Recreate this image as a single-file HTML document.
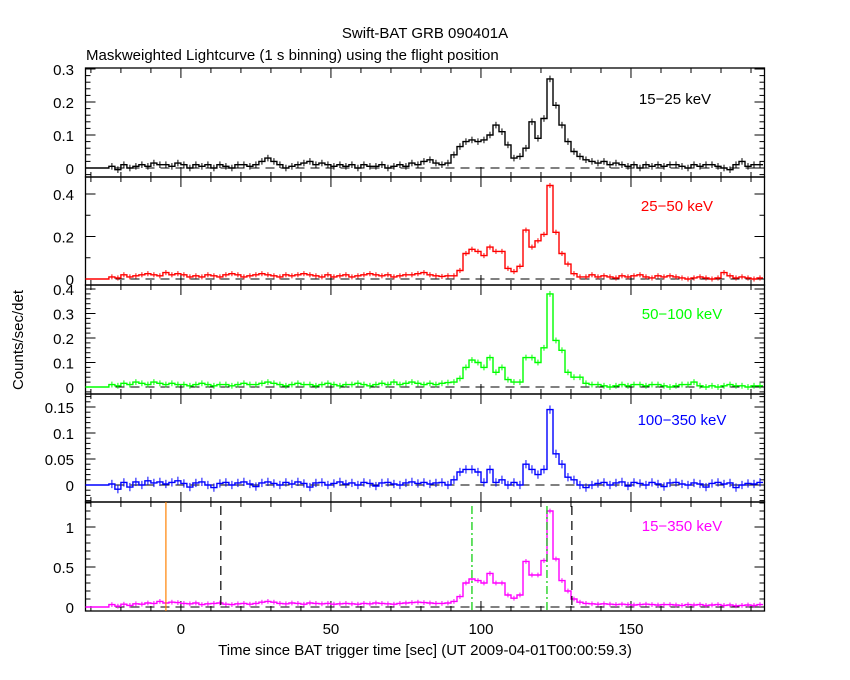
<!DOCTYPE html>
<html><head><meta charset="utf-8"><style>
html,body{margin:0;padding:0;background:#fff;}
svg{display:block;font-family:"Liberation Sans",sans-serif;}
</style></head><body>
<svg id="chart" width="850" height="680" viewBox="0 0 850 680" xmlns="http://www.w3.org/2000/svg">
<rect width="850" height="680" fill="#fff"/>
<text x="425" y="38" font-size="15" text-anchor="middle">Swift-BAT GRB 090401A</text>
<text x="86" y="60" font-size="15">Maskweighted Lightcurve (1 s binning) using the flight position</text>
<text x="0" y="0" font-size="15" text-anchor="middle" transform="translate(23,340) rotate(-90)">Counts/sec/det</text>
<text x="425" y="655" font-size="15" text-anchor="middle">Time since BAT trigger time [sec] (UT 2009-04-01T00:00:59.3)</text>
<g id="plots"></g>
</svg>
<script>
// bins: start time -24 s, width 2 s
const binStart = -24;
const binWidth = 2;
const xTicks = [0, 50, 100, 150];
const band1 = [0.005,-0.005,0.01,0.0,0.005,0.01,0.005,0.015,0.01,0.01,0.005,0.015,
0.01,0.0,0.01,0.005,0.01,0.0,0.01,0.005,0.0,0.01,0.01,0.005,0.01,0.02,0.03,0.02,
0.01,0.0,0.005,0.01,0.015,0.02,0.01,0.015,0.01,0.005,0.01,0.005,0.01,0.0,0.01,0.005,0.005,0.01,0.0,0.005,0.01,0.005,0.015,0.01,0.02,0.025,0.015,
0.01,0.015,0.04,0.065,0.08,0.085,0.08,0.085,0.1,0.13,0.11,0.07,0.03,0.035,0.06,0.14,0.09,0.15,0.27,0.19,0.13,0.08,0.05,0.035,0.025,0.02,0.015,
0.02,0.01,0.015,0.01,0.005,0.01,0.0,0.01,0.005,0.01,0.005,0.01,0.01,0.005,0.0,0.01,0.005,0.01,0.01,0.005,0.0,-0.005,0.01,0.02,0.005,0.01,0.01];
const band2 = [0.01,0.005,0.02,0.01,0.015,0.02,0.025,0.02,0.015,0.03,0.02,0.025,
0.02,0.01,0.015,0.01,0.02,0.015,0.01,0.02,0.025,0.02,0.01,0.015,0.02,0.025,0.02,0.015,
0.01,0.02,0.015,0.02,0.025,0.02,0.015,0.01,0.02,0.01,0.015,0.02,0.01,0.015,0.02,0.025,0.02,0.015,0.02,0.01,0.015,0.02,0.02,0.025,0.03,0.02,0.015,
0.012,0.015,0.015,0.04,0.12,0.14,0.13,0.11,0.15,0.13,0.13,0.05,0.035,0.06,0.23,0.15,0.18,0.21,0.44,0.22,0.12,0.07,0.025,0.01,0.01,0.02,0.01,
0.015,0.01,0.005,0.015,0.01,0.015,0.02,0.01,0.005,0.015,0.01,0.015,0.01,0.005,0.0,0.005,0.01,0.005,0.0,0.005,0.03,0.015,0.005,0.01,0.005,0.0,0.005];
const band3 = [0.01,0.005,0.015,0.01,0.02,0.015,0.01,0.02,0.015,0.01,0.015,0.01,
0.01,0.005,0.01,0.015,0.01,0.005,0.01,0.01,0.005,0.01,0.015,0.01,0.01,0.015,0.02,0.015,
0.01,0.005,0.01,0.015,0.01,0.01,0.005,0.01,0.015,0.01,0.005,0.01,0.01,0.015,0.01,0.005,0.01,0.015,0.01,0.02,0.01,0.015,0.02,0.015,0.01,0.015,0.01,
0.015,0.018,0.02,0.035,0.08,0.11,0.1,0.08,0.12,0.06,0.08,0.03,0.02,0.02,0.12,0.12,0.1,0.16,0.38,0.19,0.15,0.06,0.04,0.04,0.015,0.01,0.01,
0.005,0.0,0.005,0.01,0.005,0.01,0.01,0.005,0.01,0.01,0.005,0.0,0.005,0.01,0.01,0.02,0.005,0.0,0.005,0.0,0.005,0.01,0.005,0.005,0.0,0.005,0.005];
const band4 = [0.002,-0.008,0.005,-0.004,0.006,0.0,0.008,0.004,0.006,0.002,0.005,0.008,
0.003,-0.004,0.004,0.006,0.0,-0.005,0.003,0.005,0.0,0.004,0.006,0.002,-0.003,0.004,0.006,0.003,
0.0,0.005,0.002,0.006,0.003,-0.004,0.004,0.005,0.0,0.003,0.006,0.002,0.004,0.0,0.005,0.003,-0.002,0.004,0.005,0.002,0.0,0.004,0.006,0.003,0.005,0.002,0.004,
0.005,0.0,0.01,0.025,0.03,0.03,0.025,0.005,0.03,0.005,0.01,0.0,0.005,0.0,0.04,0.03,0.02,0.03,0.145,0.06,0.04,0.015,0.01,0.0,-0.005,0.0,0.003,
0.005,0.0,0.004,0.006,-0.002,0.005,0.003,0.0,0.005,0.002,-0.003,0.004,0.005,0.002,0.0,0.004,0.002,-0.004,0.003,0.005,0.002,0.004,-0.005,0.0,0.003,0.002,0.005];
const band5 = [0.03,0.01,0.035,0.02,0.04,0.035,0.05,0.045,0.07,0.05,0.06,0.055,
0.045,0.04,0.05,0.03,0.04,0.045,0.05,0.035,0.03,0.04,0.045,0.035,0.045,0.06,0.07,0.06,
0.045,0.04,0.05,0.045,0.035,0.05,0.045,0.04,0.045,0.035,0.04,0.045,0.04,0.035,0.045,0.04,0.05,0.045,0.04,0.035,0.045,0.05,0.055,0.06,0.055,0.05,0.045,
0.045,0.05,0.07,0.13,0.3,0.35,0.33,0.3,0.42,0.3,0.3,0.15,0.11,0.15,0.57,0.4,0.4,0.58,1.2,0.6,0.33,0.2,0.1,0.06,0.045,0.04,0.035,
0.04,0.035,0.03,0.035,0.03,0.025,0.03,0.035,0.03,0.025,0.03,0.03,0.025,0.02,0.03,0.025,0.03,0.02,0.025,0.03,0.02,0.025,0.015,0.02,0.025,0.02,0.03];
const panelLabels = ["15\u221225 keV","25\u221250 keV","50\u2212100 keV","100\u2212350 keV","15\u2212350 keV"];
const yTicks1 = [0,0.1,0.2,0.3];
const yTicks2 = [0,0.2,0.4];
const yTicks3 = [0,0.1,0.2,0.3,0.4];
const yTicks4 = [0,0.05,0.1,0.15];
const yTicks5 = [0,0.5,1];
const markerTimes = [-5, 13.3, 97, 122, 130.3];

const NS = "http://www.w3.org/2000/svg";
const X0 = 85.5, X1 = 764.5, T0 = -31.8, T1 = 194.5;
const xs = t => X0 + (t - T0) / (T1 - T0) * (X1 - X0);
const panels = [
 {top:68, bot:177, y0:168, unit:330, data:band1, ticks:yTicks1, minor:0.02, color:"#000", lx:675, ly:104, fmt:v=>v===0?"0":v.toFixed(1), err:0.01},
 {top:177, bot:285, y0:279, unit:212.5, data:band2, ticks:yTicks2, minor:0.1, color:"#f00", lx:677, ly:211, fmt:v=>v===0?"0":v.toFixed(1), err:0.012},
 {top:285, bot:394, y0:387, unit:245, data:band3, ticks:yTicks3, minor:0.02, color:"#0f0", lx:682, ly:319, fmt:v=>v===0?"0":v.toFixed(1), err:0.012},
 {top:394, bot:502, y0:485, unit:520, data:band4, ticks:yTicks4, minor:0.01, color:"#00f", lx:682, ly:425, fmt:v=>v===0?"0":String(v), err:0.008},
 {top:502, bot:611, y0:607, unit:80, data:band5, ticks:yTicks5, minor:0.1, color:"#f0f", lx:682, ly:531, fmt:v=>String(v), err:0.03}
];
const root = document.getElementById("plots");
function mk(tag, attrs, parent){
  const e = document.createElementNS(NS, tag);
  for (const k in attrs) e.setAttribute(k, attrs[k]);
  (parent||root).appendChild(e);
  return e;
}
panels.forEach((p, pi) => {
  const g = mk("g", {});
  
  
  const ys = v => p.y0 - v * p.unit;
  // frame
  const fr = mk("rect", {x:X0, y:p.top, width:X1-X0, height:p.bot-p.top, fill:"none", stroke:"#000", "stroke-width":1.3}, g);
  
  
  // x ticks
  for (let t = -30; t <= 190; t += 10) {
    const major = t % 50 === 0;
    const L = major ? 10 : 5;
    mk("line", {x1:xs(t), x2:xs(t), y1:p.top, y2:p.top+L, stroke:"#000"}, g);
    mk("line", {x1:xs(t), x2:xs(t), y1:p.bot, y2:p.bot-L, stroke:"#000"}, g);
  }
  // y ticks
  const lo = (p.y0 - p.bot) / p.unit, hi = (p.y0 - p.top) / p.unit;
  for (let k = Math.ceil(lo / p.minor); k * p.minor <= hi; k++) {
    const v = k * p.minor, y = ys(v);
    const isMajor = p.ticks.some(tv => Math.abs(tv - v) < 1e-9);
    const L = isMajor ? 10 : 5;
    mk("line", {x1:X0, x2:X0+L, y1:y, y2:y, stroke:"#000"}, g);
    mk("line", {x1:X1, x2:X1-L, y1:y, y2:y, stroke:"#000"}, g);
  }
  p.ticks.forEach(v => {
    const tl = mk("text", {x:74, y:ys(v)+6, "font-size":15, "text-anchor":"end"}, g);
    tl.textContent = p.fmt(v);
    
    
  });
  // zero dashed
  const zl = mk("line", {x1:X0, x2:X1, y1:ys(0), y2:ys(0), stroke:"#000", "stroke-dasharray":"9,6"}, g);
  
  
  // series step line
  let d = "M" + X0 + "," + ys(0) + " L" + xs(binStart) + "," + ys(0);
  p.data.forEach((v, i) => {
    const ta = binStart + i*binWidth, tb = ta + binWidth;
    d += " L" + xs(ta).toFixed(1) + "," + ys(v).toFixed(1) + " L" + xs(tb).toFixed(1) + "," + ys(v).toFixed(1);
  });
  const s = mk("path", {d:d, fill:"none", stroke:p.color, "stroke-width":1.4}, g);
  
  
  // error bars
  p.data.forEach((v, i) => {
    const tc = binStart + i*binWidth + binWidth/2;
    const eb = mk("line", {x1:xs(tc), x2:xs(tc), y1:ys(v+p.err), y2:ys(v-p.err), stroke:p.color}, g);
    
    
  });
  const lab = mk("text", {x:p.lx, y:p.ly, "font-size":15, fill:p.color, "text-anchor":"middle"}, g);
  lab.textContent = panelLabels[pi];
  
  
});
// marker lines in bottom panel
const P5 = panels[4];
const mStyles = [
 {c:"#ff8000", dash:"", top:P5.top},
 {c:"#000", dash:"9,6", top:P5.top+4},
 {c:"#0c0", dash:"8,3,2,3", top:P5.top+4},
 {c:"#0c0", dash:"8,3,2,3", top:P5.top+4},
 {c:"#000", dash:"9,6", top:P5.top+4}
];
markerTimes.forEach((t, i) => {
  const m = mk("line", {x1:xs(t), x2:xs(t), y1:mStyles[i].top, y2:P5.bot, stroke:mStyles[i].c, "stroke-dasharray":mStyles[i].dash, "stroke-width":1.2});
  
  
});
xTicks.forEach(t => {
  const tl = mk("text", {x:xs(t), y:634, "font-size":15, "text-anchor":"middle"});
  tl.textContent = String(t);
  
  
});
</script>
</body></html>
